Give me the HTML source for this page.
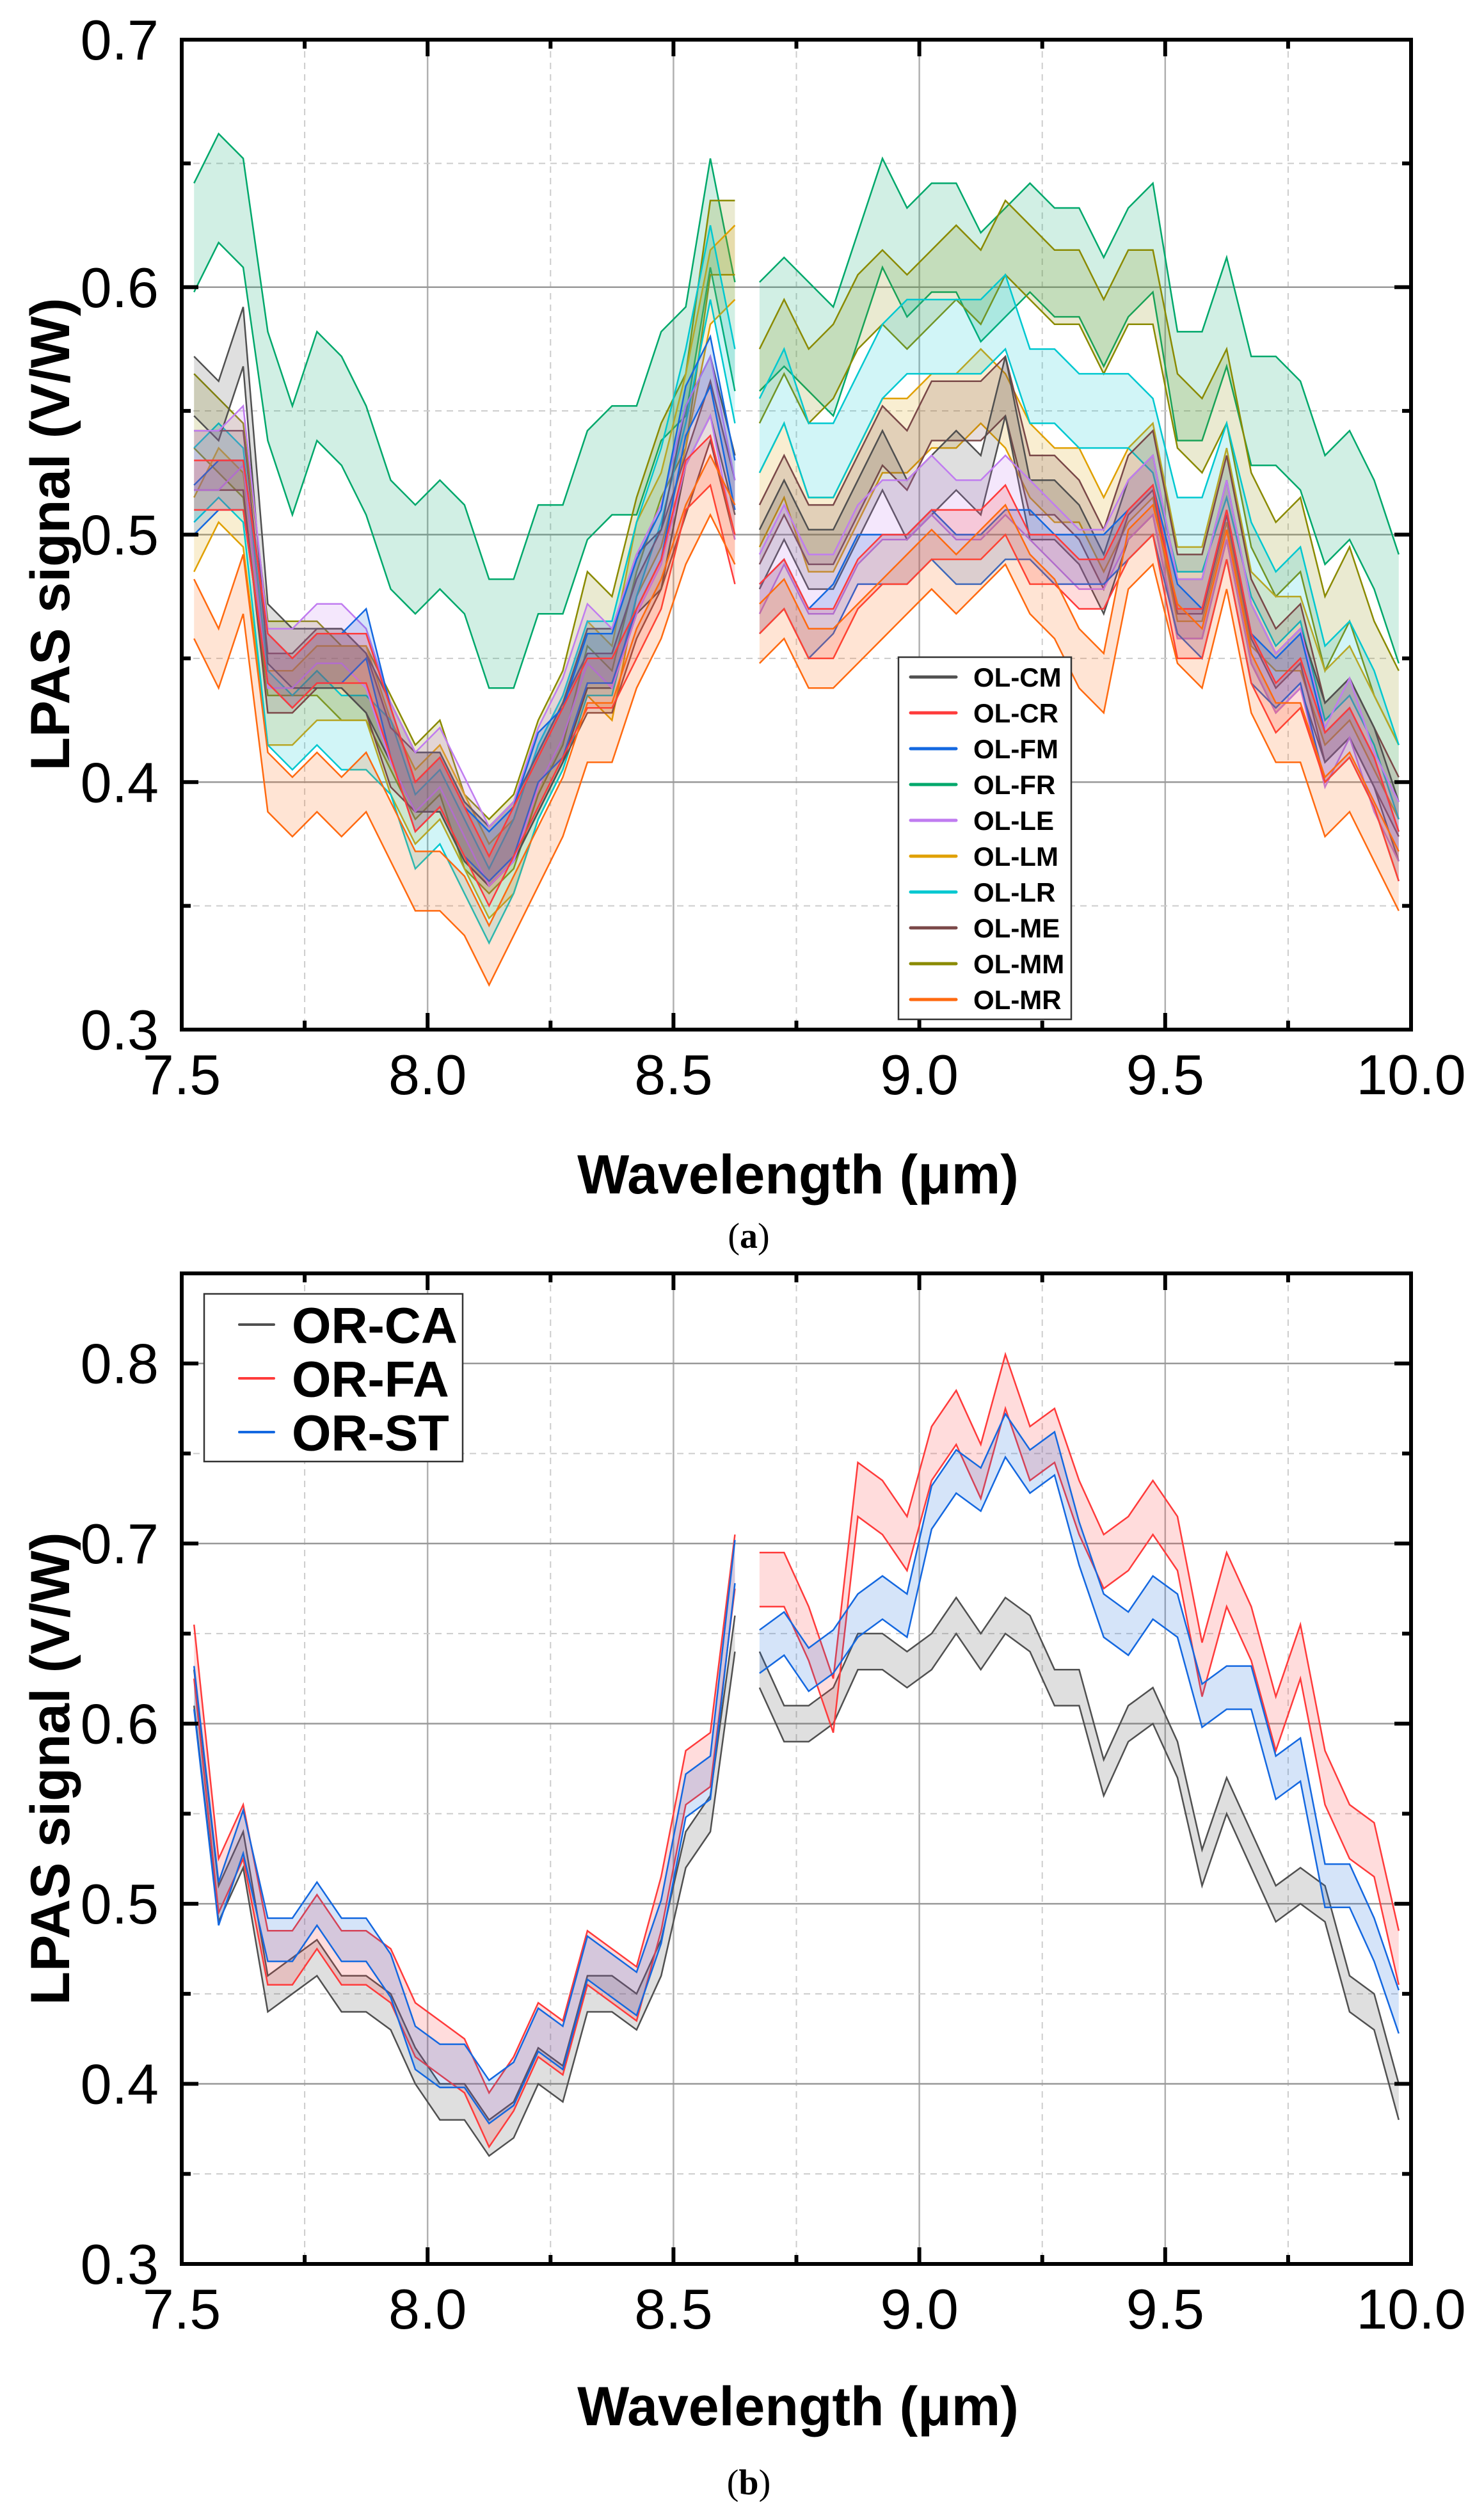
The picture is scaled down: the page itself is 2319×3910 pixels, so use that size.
<!DOCTYPE html>
<html><head><meta charset="utf-8">
<style>
html,body{margin:0;padding:0;background:#fff;}
svg{display:block;}
text{font-family:"Liberation Sans",Arial,sans-serif;}
</style></head>
<body>
<svg id="svg" width="2319" height="3910" viewBox="0 0 2319 3910" xmlns="http://www.w3.org/2000/svg">
<g id="gA"></g>
<g id="gB"></g>
<text x="1247" y="1865" text-anchor="middle" font-size="86" font-weight="bold">Wavelength (μm)</text>
<text transform="translate(108,835) rotate(-90)" text-anchor="middle" font-size="86" font-weight="bold">LPAS signal (V/W)</text>
<text x="1170" y="1950" text-anchor="middle" font-size="56" style="font-family:'Liberation Serif',serif">(<tspan font-weight="bold">a</tspan>)</text>
<text x="1247" y="3790" text-anchor="middle" font-size="86" font-weight="bold">Wavelength (μm)</text>
<text transform="translate(108,2764) rotate(-90)" text-anchor="middle" font-size="86" font-weight="bold">LPAS signal (V/W)</text>
<text x="1170" y="3898" text-anchor="middle" font-size="56" style="font-family:'Liberation Serif',serif">(<tspan font-weight="bold">b</tspan>)</text>
</svg>
<script>
// ---- shared x grid ----
const xSeg1 = [7.525,7.575,7.625,7.675,7.725,7.775,7.825,7.875,7.925,7.975,8.025,8.075,8.125,8.175,8.225,8.275,8.325,8.375,8.425,8.475,8.525,8.575,8.625];
const xSeg2 = [8.675,8.725,8.775,8.825,8.875,8.925,8.975,9.025,9.075,9.125,9.175,9.225,9.275,9.325,9.375,9.425,9.475,9.525,9.575,9.625,9.675,9.725,9.775,9.825,9.875,9.925,9.975];
const xTicks = [7.5,8.0,8.5,9.0,9.5,10.0];
const xTickLabels = ["7.5","8.0","8.5","9.0","9.5","10.0"];

// ---- chart a data ----
const namesA = ["OL-CM","OL-CR","OL-FM","OL-FR","OL-LE","OL-LM","OL-LR","OL-ME","OL-MM","OL-MR"];
const colorsA = ["#505050","#ff3b3b","#1468e0","#00a86b","#c07cf0","#e0a000","#00c8d0","#7a4848","#8a8a00","#ff6a10"];
const hwA = [0.012,0.010,0.010,0.022,0.012,0.015,0.015,0.012,0.015,0.012];
const cmA1 = [0.56,0.55,0.58,0.46,0.45,0.45,0.45,0.44,0.42,0.40,0.40,0.38,0.37,0.38,0.40,0.42,0.45,0.45,0.48,0.49,0.54,0.56,0.52];
const crA1 = [0.52,0.52,0.52,0.45,0.44,0.45,0.45,0.45,0.42,0.39,0.40,0.38,0.36,0.38,0.40,0.42,0.44,0.44,0.46,0.48,0.52,0.53,0.49];
const fmA1 = [0.51,0.52,0.52,0.45,0.44,0.45,0.45,0.46,0.42,0.39,0.40,0.38,0.37,0.38,0.41,0.42,0.45,0.45,0.48,0.50,0.55,0.57,0.52];
const frA1 = [0.62,0.64,0.63,0.56,0.53,0.56,0.55,0.53,0.50,0.49,0.50,0.49,0.46,0.46,0.49,0.49,0.52,0.53,0.53,0.56,0.57,0.63,0.58];
const leA1 = [0.53,0.53,0.54,0.45,0.45,0.46,0.46,0.45,0.42,0.40,0.41,0.39,0.37,0.38,0.41,0.43,0.46,0.45,0.48,0.50,0.54,0.56,0.51];
const lmA1 = [0.50,0.52,0.51,0.43,0.43,0.44,0.44,0.44,0.41,0.39,0.40,0.38,0.36,0.37,0.40,0.42,0.45,0.44,0.49,0.51,0.55,0.60,0.61];
const lrA1 = [0.52,0.53,0.52,0.43,0.42,0.43,0.42,0.42,0.41,0.38,0.39,0.37,0.35,0.37,0.40,0.42,0.45,0.45,0.49,0.52,0.56,0.61,0.56];
const meA1 = [0.53,0.53,0.53,0.44,0.44,0.45,0.45,0.44,0.41,0.40,0.40,0.38,0.37,0.38,0.40,0.42,0.44,0.44,0.47,0.49,0.52,0.55,0.51];
const mmA1 = [0.55,0.54,0.53,0.45,0.45,0.45,0.44,0.44,0.42,0.40,0.41,0.38,0.37,0.38,0.41,0.43,0.47,0.46,0.50,0.53,0.55,0.62,0.62];
const mrA1 = [0.47,0.45,0.48,0.40,0.39,0.40,0.39,0.40,0.38,0.36,0.36,0.35,0.33,0.35,0.37,0.39,0.42,0.42,0.45,0.47,0.50,0.52,0.50];
const cmA2 = [0.49,0.51,0.49,0.49,0.51,0.53,0.51,0.52,0.53,0.52,0.56,0.51,0.51,0.50,0.48,0.51,0.52,0.47,0.47,0.51,0.46,0.44,0.45,0.42,0.43,0.41,0.38];
const crA2 = [0.47,0.48,0.46,0.46,0.48,0.49,0.49,0.50,0.50,0.50,0.51,0.49,0.49,0.48,0.48,0.50,0.51,0.46,0.46,0.50,0.45,0.43,0.44,0.41,0.42,0.40,0.37];
const fmA2 = [0.47,0.48,0.46,0.47,0.49,0.49,0.49,0.50,0.49,0.49,0.50,0.50,0.49,0.49,0.49,0.50,0.51,0.47,0.46,0.50,0.45,0.44,0.45,0.41,0.42,0.40,0.37];
const frA2 = [0.58,0.59,0.58,0.57,0.60,0.63,0.61,0.62,0.62,0.60,0.61,0.62,0.61,0.61,0.59,0.61,0.62,0.56,0.56,0.59,0.55,0.55,0.54,0.51,0.52,0.50,0.47];
const leA2 = [0.48,0.50,0.48,0.48,0.50,0.51,0.51,0.52,0.51,0.51,0.52,0.51,0.50,0.49,0.49,0.51,0.52,0.47,0.47,0.51,0.46,0.44,0.45,0.41,0.43,0.40,0.38];
const lmA2 = [0.51,0.53,0.50,0.50,0.52,0.54,0.54,0.55,0.55,0.56,0.55,0.53,0.52,0.52,0.50,0.52,0.53,0.48,0.48,0.52,0.47,0.46,0.46,0.43,0.44,0.42,0.40];
const lrA2 = [0.54,0.56,0.53,0.53,0.55,0.57,0.58,0.58,0.58,0.58,0.59,0.56,0.56,0.55,0.55,0.55,0.54,0.50,0.50,0.53,0.49,0.47,0.48,0.44,0.45,0.43,0.40];
const meA2 = [0.50,0.52,0.50,0.50,0.52,0.54,0.53,0.55,0.55,0.55,0.56,0.52,0.52,0.51,0.49,0.52,0.53,0.48,0.48,0.52,0.47,0.45,0.46,0.42,0.43,0.41,0.39];
const mmA2 = [0.56,0.58,0.56,0.57,0.59,0.60,0.59,0.60,0.61,0.60,0.62,0.61,0.60,0.60,0.58,0.60,0.60,0.55,0.54,0.56,0.51,0.49,0.50,0.46,0.48,0.45,0.43];
const mrA2 = [0.46,0.47,0.45,0.45,0.46,0.47,0.48,0.49,0.48,0.49,0.50,0.48,0.47,0.45,0.44,0.49,0.50,0.46,0.45,0.49,0.44,0.42,0.42,0.39,0.40,0.38,0.36];
const yTicksA = [0.3,0.4,0.5,0.6,0.7];
const yTickLabelsA = ["0.3","0.4","0.5","0.6","0.7"];

// ---- chart b data ----
const namesB = ["OR-CA","OR-FA","OR-ST"];
const colorsB = ["#505050","#ff3b3b","#1468e0"];
const hwB = [0.010,0.015,0.012];
const caB1 = [0.62,0.50,0.53,0.45,0.46,0.47,0.45,0.45,0.44,0.41,0.39,0.39,0.37,0.38,0.41,0.40,0.45,0.45,0.44,0.47,0.53,0.55,0.65];
const faB1 = [0.64,0.51,0.54,0.47,0.47,0.49,0.47,0.47,0.46,0.43,0.42,0.41,0.38,0.40,0.43,0.42,0.47,0.46,0.45,0.50,0.57,0.58,0.69];
const stB1 = [0.62,0.50,0.54,0.48,0.48,0.50,0.48,0.48,0.46,0.42,0.41,0.41,0.39,0.40,0.43,0.42,0.47,0.46,0.45,0.49,0.56,0.57,0.69];
const caB2 = [0.63,0.60,0.60,0.61,0.64,0.64,0.63,0.64,0.66,0.64,0.66,0.65,0.62,0.62,0.57,0.60,0.61,0.58,0.52,0.56,0.53,0.50,0.51,0.50,0.45,0.44,0.39];
const faB2 = [0.68,0.68,0.65,0.61,0.73,0.72,0.70,0.75,0.77,0.74,0.79,0.75,0.76,0.72,0.69,0.70,0.72,0.70,0.63,0.68,0.65,0.60,0.64,0.57,0.54,0.53,0.47];
const stB2 = [0.64,0.65,0.63,0.64,0.66,0.67,0.66,0.72,0.74,0.73,0.76,0.74,0.75,0.70,0.66,0.65,0.67,0.66,0.61,0.62,0.62,0.57,0.58,0.51,0.51,0.48,0.44];
const yTicksB = [0.3,0.4,0.5,0.6,0.7,0.8];
const yTickLabelsB = ["0.3","0.4","0.5","0.6","0.7","0.8"];

const NS = "http://www.w3.org/2000/svg";
function mk(tag, attrs, parent){
  const e = document.createElementNS(NS, tag);
  for (const k in attrs) e.setAttribute(k, attrs[k]);
  parent.appendChild(e);
  return e;
}

function drawChart(g, cfg){
  const L = 284, R = 2205, T = cfg.top, B = cfg.bottom;
  const xs = v => L + (v - 7.5) / 2.5 * (R - L);
  const ys = v => B - (v - cfg.ymin) / (cfg.ymax - cfg.ymin) * (B - T);
  for (let v = 7.75; v < 10; v += 0.25) {
    const major = Math.abs(v * 2 - Math.round(v * 2)) < 1e-6;
    const gl = mk("line", {x1: xs(v), x2: xs(v), y1: T, y2: B, stroke: major ? "#b0b0b0" : "#cccccc", "stroke-width": major ? 2.5 : 2, "stroke-dasharray": major ? "" : "10,8"}, g);
    
    
  }
  for (let v = cfg.ymin + 0.05; v < cfg.ymax - 1e-6; v += 0.05) {
    const major = Math.abs(v * 10 - Math.round(v * 10)) < 1e-6;
    const gl = mk("line", {x1: L, x2: R, y1: ys(v), y2: ys(v), stroke: major ? "#999999" : "#cccccc", "stroke-width": major ? 2.5 : 2, "stroke-dasharray": major ? "" : "10,8"}, g);
    
    
  }
  cfg.series.forEach((s, i) => {
    const sg = mk("g", {}, g);
    
    
    [[xSeg1, s.d1], [xSeg2, s.d2]].forEach(([xv, dv]) => {
      const up = xv.map((x, j) => [xs(x), ys(dv[j] + s.hw)]);
      const lo = xv.map((x, j) => [xs(x), ys(dv[j] - s.hw)]);
      const poly = up.concat(lo.slice().reverse()).map(p => p.join(",")).join(" ");
      const band = mk("polygon", {points: poly, fill: s.color, "fill-opacity": 0.18, stroke: "none"}, sg);
      
      
      const l1 = mk("polyline", {points: up.map(p => p.join(",")).join(" "), fill: "none", stroke: s.color, "stroke-width": 2.5}, sg);
      
      
      const l2 = mk("polyline", {points: lo.map(p => p.join(",")).join(" "), fill: "none", stroke: s.color, "stroke-width": 2.5}, sg);
      
      
    });
  });
  const fr = mk("rect", {x: L, y: T, width: R - L, height: B - T, fill: "none", stroke: "#000", "stroke-width": 6}, g);
  
  
  for (let v = 7.75; v < 10; v += 0.25) {
    const major = Math.abs(v * 2 - Math.round(v * 2)) < 1e-6;
    const len = major ? 26 : 14;
    const t1 = mk("line", {x1: xs(v), x2: xs(v), y1: B, y2: B - len, stroke: "#000", "stroke-width": 6}, g);
    
    
    const t2 = mk("line", {x1: xs(v), x2: xs(v), y1: T, y2: T + len, stroke: "#000", "stroke-width": 6}, g);
    
    
  }
  for (let v = cfg.ymin + 0.05; v < cfg.ymax - 1e-6; v += 0.05) {
    const major = Math.abs(v * 10 - Math.round(v * 10)) < 1e-6;
    const len = major ? 26 : 14;
    const t1 = mk("line", {x1: L, x2: L + len, y1: ys(v), y2: ys(v), stroke: "#000", "stroke-width": 6}, g);
    
    
    const t2 = mk("line", {x1: R, x2: R - len, y1: ys(v), y2: ys(v), stroke: "#000", "stroke-width": 6}, g);
    
    
  }
  xTicks.forEach((v, i) => {
    const t = mk("text", {x: xs(v), y: B + 101, "text-anchor": "middle", "font-size": 88}, g);
    t.textContent = xTickLabels[i];
    
    
  });
  cfg.yTicks.forEach((v, i) => {
    const t = mk("text", {x: 248, y: ys(v) + 31, "text-anchor": "end", "font-size": 88}, g);
    t.textContent = cfg.yLabels[i];
    
    
  });
  const lg = cfg.legend;
  const lgG = mk("g", {}, g);
  
  
  const box = mk("rect", {x: lg.x, y: lg.y, width: lg.w, height: lg.h, fill: "#fff", stroke: "#333", "stroke-width": 2.5}, lgG);
  
  
  lg.names.forEach((n, i) => {
    const yy = lg.y0 + i * lg.dy;
    const ln = mk("line", {x1: lg.lx1, x2: lg.lx2, y1: yy, y2: yy, stroke: lg.colors[i], "stroke-width": lg.lw, "stroke-linecap": "round"}, lgG);
    
    
    const tx = mk("text", {x: lg.tx, y: yy + lg.fs * 0.36, "font-size": lg.fs, "font-weight": "bold"}, lgG);
    tx.textContent = n;
    
    
  });
}

const seriesA = [
  {d1: cmA1, d2: cmA2}, {d1: crA1, d2: crA2}, {d1: fmA1, d2: fmA2}, {d1: frA1, d2: frA2}, {d1: leA1, d2: leA2},
  {d1: lmA1, d2: lmA2}, {d1: lrA1, d2: lrA2}, {d1: meA1, d2: meA2}, {d1: mmA1, d2: mmA2}, {d1: mrA1, d2: mrA2}
].map((s, i) => ({name: namesA[i], color: colorsA[i], hw: hwA[i], d1: s.d1, d2: s.d2}));
const drawOrderA = [3, 8, 5, 6, 7, 0, 4, 2, 1, 9];
const seriesAOrdered = drawOrderA.map(i => seriesA[i]);

const seriesB = [
  {d1: caB1, d2: caB2}, {d1: faB1, d2: faB2}, {d1: stB1, d2: stB2}
].map((s, i) => ({name: namesB[i], color: colorsB[i], hw: hwB[i], d1: s.d1, d2: s.d2}));

drawChart(document.getElementById("gA"), {top: 62, bottom: 1609, ymin: 0.3, ymax: 0.7, series: seriesAOrdered,
  yTicks: yTicksA, yLabels: yTickLabelsA,
  legend: {names: namesA, colors: colorsA, x: 1404, y: 1027, w: 270, h: 566, y0: 1058, dy: 56, lx1: 1423, lx2: 1494, lw: 5, tx: 1521, fs: 42}});
drawChart(document.getElementById("gB"), {top: 1990, bottom: 3538, ymin: 0.3, ymax: 0.85, series: seriesB,
  yTicks: yTicksB, yLabels: yTickLabelsB,
  legend: {names: namesB, colors: colorsB, x: 319, y: 2022, w: 404, h: 262, y0: 2070, dy: 84, lx1: 374, lx2: 428, lw: 4, tx: 456, fs: 79}});
</script>
</body></html>
